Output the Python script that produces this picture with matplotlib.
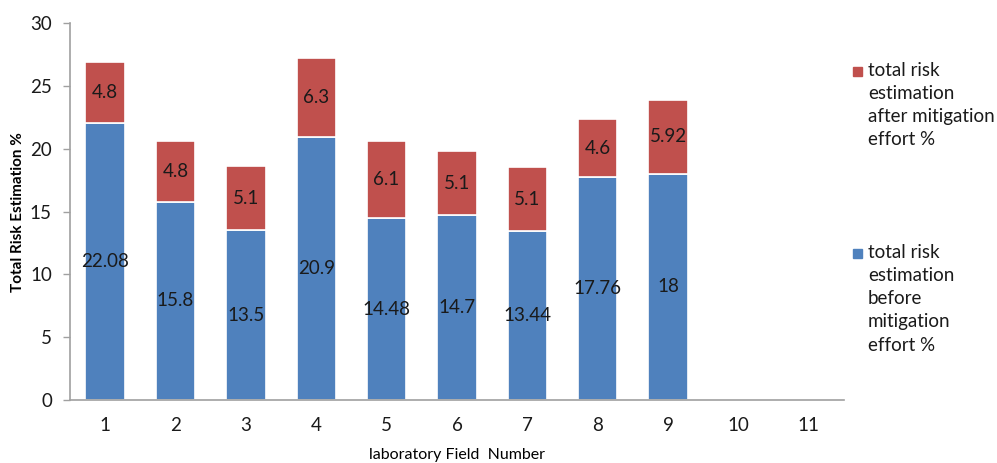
import matplotlib.pyplot as plt
from matplotlib.patches import Rectangle

plt.rcParams['font.family'] = ['Lato', 'DejaVu Sans']

fields = [1, 2, 3, 4, 5, 6, 7, 8, 9]
all_ticks = [1, 2, 3, 4, 5, 6, 7, 8, 9, 10, 11]
before = [22.08, 15.8, 13.5, 20.9, 14.48, 14.7, 13.44, 17.76, 18]
after = [4.8, 4.8, 5.1, 6.3, 6.1, 5.1, 5.1, 4.6, 5.92]
before_lbl = ["22.08", "15.8", "13.5", "20.9", "14.48", "14.7", "13.44", "17.76", "18"]
after_lbl = ["4.8", "4.8", "5.1", "6.3", "6.1", "5.1", "5.1", "4.6", "5.92"]

blue = "#4F81BD"
red = "#C0504D"

fig = plt.figure(figsize=(9.97, 4.63), dpi=100)
ax = fig.add_axes([0.0702, 0.136, 0.7763, 0.814])

b1 = ax.bar(fields, before, width=0.56, color=blue, edgecolor="white", linewidth=1.2)
b2 = ax.bar(fields, after, width=0.56, bottom=before, color=red, edgecolor="white", linewidth=1.2)
ax.bar_label(b1, labels=before_lbl, label_type="center", fontsize=13.5, color="#1a1a1a")
ax.bar_label(b2, labels=after_lbl, label_type="center", fontsize=13.5, color="#1a1a1a")

ax.set_xlim(0.5, 11.5)
ax.set_ylim(0, 30)
ax.set_yticks([0, 5, 10, 15, 20, 25, 30])
ax.set_xticks(all_ticks)
ax.tick_params(axis="x", length=0, pad=12, labelsize=13.5, labelcolor="#1a1a1a")
ax.tick_params(axis="y", length=5, width=1, color="#A0A0A0", pad=8, labelsize=13.5, labelcolor="#1a1a1a")

for s in ["top", "right"]:
    ax.spines[s].set_visible(False)
for s in ["left", "bottom"]:
    ax.spines[s].set_color("#A0A0A0")
    ax.spines[s].set_linewidth(1.2)

ax.set_ylabel("Total Risk Estimation %", fontsize=11, fontweight="bold")
ax.yaxis.set_label_coords(-0.058, 0.5)
ax.set_xlabel("laboratory Field  Number", fontsize=11.5, labelpad=10)

# legend drawn by hand so the swatch lines up with the first text line
legend_items = [
    (red, "total risk\nestimation\nafter mitigation\neffort %", 71.5),
    (blue, "total risk\nestimation\nbefore\nmitigation\neffort %", 253.5),
]
for col, txt, yc in legend_items:
    fig.patches.append(Rectangle((853 / 997, 1 - (yc + 4.5) / 463), 9 / 997, 9 / 463,
                                 transform=fig.transFigure, color=col))
    fig.text(868 / 997, 1 - (yc - 10) / 463, txt, fontsize=13.5, va="top", ha="left",
             linespacing=1.45, color="#1a1a1a")

fig.savefig("out.png", dpi=100)
